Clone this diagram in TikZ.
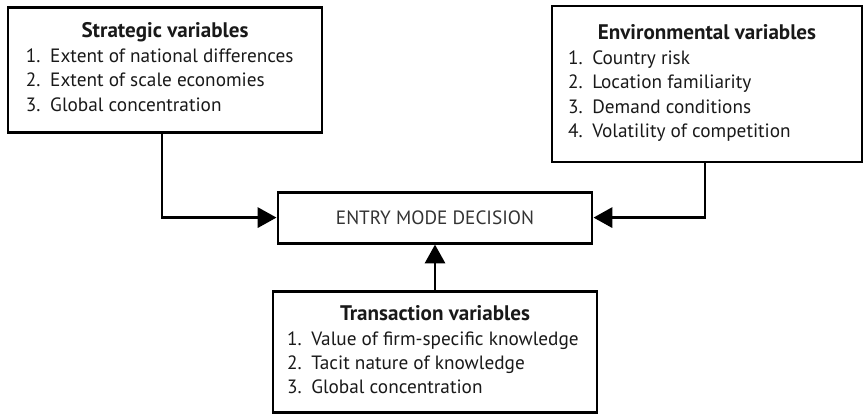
\documentclass[tikz,border=0pt]{standalone}
\usepackage{fontspec}
\usepackage{array}
\setmainfont{PT Sans}
\usetikzlibrary{positioning,arrows.meta}

% title centred over the box, items flush left
\newcommand{\varlist}[3]{\begin{tabular}{@{}>{\raggedright\arraybackslash}p{#1}@{}}\multicolumn{1}{@{}c@{}}{\fontsize{15}{17.5}\selectfont\textbf{#2}}\\#3\end{tabular}}

\begin{document}
\begin{tikzpicture}[>={Triangle[length=0.47cm,width=0.5cm]}, line width=2.1pt,
  every node/.style={font=\fontsize{13.7}{17.4}\selectfont, text=black!90},
  varbox/.style={draw, line width=2.1pt, inner sep=0pt}]
\useasboundingbox (0,0) rectangle (21.6,10.4);
\node[varbox, minimum width=7.85cm, minimum height=3.125cm] (strat) at (4.125,8.66) {\varlist{6.95cm}{Strategic variables}{1.\enspace Extent of national differences\\2.\enspace Extent of scale economies\\3.\enspace Global concentration}};
\node[varbox, minimum width=7.75cm, minimum height=3.9cm] (env) at (17.675,8.3) {\varlist{6.95cm}{Environmental variables}{1.\enspace Country risk\\2.\enspace Location familiarity\\3.\enspace Demand conditions\\4.\enspace Volatility of competition}};
\node[varbox, minimum width=7.85cm, minimum height=1.275cm, text=black!80] (entry) at (10.875,4.96) {ENTRY MODE DECISION};
\node[varbox, minimum width=8.1cm, minimum height=3.025cm] (trans) at (10.875,1.59) {\varlist{7.4cm}{Transaction variables}{1.\enspace Value of firm-specific knowledge\\2.\enspace Tacit nature of knowledge\\3.\enspace Global concentration}};
\draw[->] ([xshift=-0.075cm]strat.south) |- (entry.west);
\draw[->] ([xshift=-0.05cm]env.south) |- (entry.east);
\draw[->] (trans.north) -- (entry.south);
\end{tikzpicture}
\end{document}
